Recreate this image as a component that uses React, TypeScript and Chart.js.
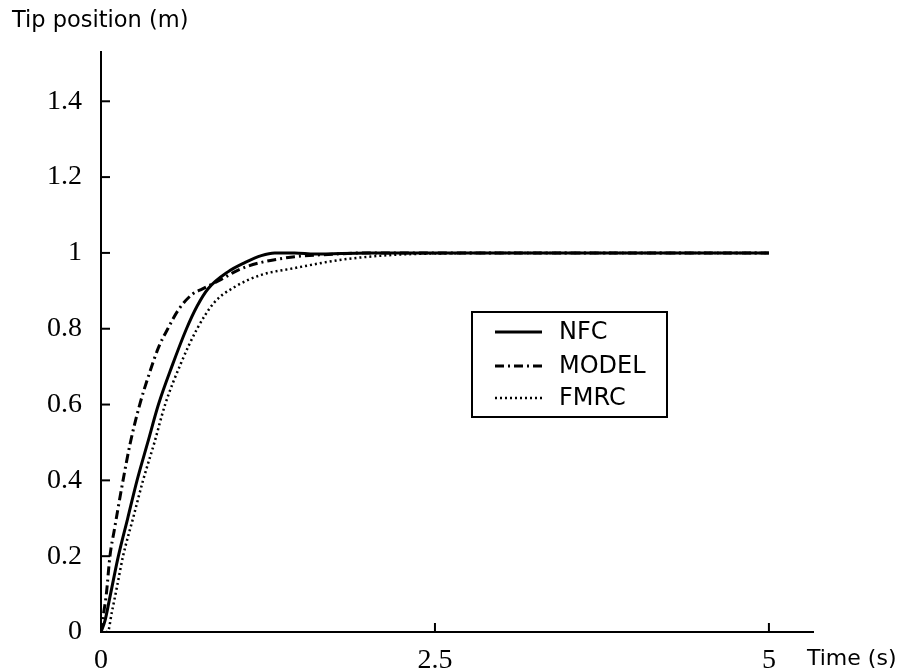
import React, { useEffect, useRef } from "react";
import { Chart, registerables } from "chart.js";

Chart.register(...registerables);

const nfcTime = [0, 0.03, 0.06, 0.1, 0.13, 0.2, 0.27, 0.35, 0.43, 0.53, 0.64, 0.72, 0.8, 0.95, 1.08, 1.2, 1.3, 1.45, 1.6, 2.0, 2.5, 3, 4, 5];
const nfcValues = [0, 0.03, 0.08, 0.15, 0.2, 0.3, 0.4, 0.5, 0.6, 0.7, 0.8, 0.86, 0.905, 0.95, 0.975, 0.993, 1.0, 1.0, 0.997, 1.0, 1.0, 1.0, 1.0, 1.0];

const modelTime = [0, 0.02, 0.04, 0.067, 0.1, 0.165, 0.22, 0.29, 0.36, 0.43, 0.5, 0.58, 0.68, 0.76, 0.9, 1.0, 1.1, 1.2, 1.3, 1.45, 1.7, 2.0, 2.5, 5];
const modelValues = [0, 0.05, 0.1, 0.2, 0.27, 0.4, 0.5, 0.6, 0.68, 0.75, 0.8, 0.85, 0.89, 0.905, 0.93, 0.95, 0.965, 0.975, 0.982, 0.99, 0.996, 1.0, 1.0, 1.0];

const fmrcTime = [0, 0.05, 0.08, 0.12, 0.165, 0.24, 0.315, 0.4, 0.48, 0.6, 0.72, 0.85, 1.0, 1.2, 1.45, 1.8, 2.2, 2.6, 3, 4, 5];
const fmrcValues = [0, 0, 0.05, 0.12, 0.2, 0.3, 0.4, 0.5, 0.6, 0.71, 0.8, 0.87, 0.91, 0.942, 0.96, 0.982, 0.995, 0.999, 1.0, 1.0, 1.0];

const seriesNames = ["NFC", "MODEL", "FMRC"];
const yTicks = [0, 0.2, 0.4, 0.6, 0.8, 1, 1.2, 1.4];
const xTicks = [0, 2.5, 5];
const xTickLabels = ["0", "2.5", "5"];
const yAxisTitle = "Tip position (m)";
const xAxisTitle = "Time (s)";

const pts = (t: number[], v: number[]) => t.map((x, i) => ({ x, y: v[i] }));

const SANS = "'DejaVu Sans', 'Liberation Sans', Arial, sans-serif";
const SERIF = "'Liberation Serif', 'Times New Roman', serif";

export default function App() {
  const ref = useRef<HTMLCanvasElement | null>(null);
  useEffect(() => {
    if (!ref.current) return;
    const styles = [
      { borderDash: [] as number[], borderWidth: 3 },
      { borderDash: [9, 4, 2, 4], borderWidth: 3 },
      { borderDash: [2, 3], borderWidth: 2.5 },
    ];
    const extras = {
      id: "extras",
      afterDraw(chart: any) {
        const ctx = chart.ctx;
        const xs = chart.scales.x;
        const ys = chart.scales.y;
        const ca = chart.chartArea;
        ctx.save();
        ctx.strokeStyle = "#000";
        ctx.lineWidth = 2;
        ctx.setLineDash([]);
        yTicks.forEach((v) => {
          if (v === 0) return;
          const py = ys.getPixelForValue(v);
          ctx.beginPath();
          ctx.moveTo(ca.left, py);
          ctx.lineTo(ca.left + 9, py);
          ctx.stroke();
        });
        xTicks.forEach((v) => {
          if (v === 0) return;
          const px = xs.getPixelForValue(v);
          ctx.beginPath();
          ctx.moveTo(px, ca.bottom);
          ctx.lineTo(px, ca.bottom - 9);
          ctx.stroke();
        });
        // titles
        ctx.fillStyle = "#000";
        ctx.textBaseline = "middle";
        ctx.textAlign = "left";
        ctx.font = "22.5px " + SANS;
        ctx.fillText(yAxisTitle, 12, 21);
        ctx.font = "22px " + SANS;
        ctx.fillText(xAxisTitle, 807, 659);
        // legend
        const bx = 472, by = 312, bw = 195, bh = 105;
        ctx.lineWidth = 2;
        ctx.strokeRect(bx, by, bw, bh);
        const rows = [332, 366, 398];
        ctx.font = "24px " + SANS;
        chart.data.datasets.forEach((ds: any, i: number) => {
          ctx.beginPath();
          ctx.setLineDash(ds.borderDash || []);
          ctx.lineWidth = ds.borderWidth;
          ctx.moveTo(495, rows[i]);
          ctx.lineTo(542, rows[i]);
          ctx.stroke();
          ctx.setLineDash([]);
          ctx.fillText(ds.label, 559, rows[i] + 1);
        });
        ctx.restore();
      },
    };
    const chart = new Chart(ref.current, {
      type: "scatter",
      data: {
        datasets: [
          { label: seriesNames[0], data: pts(nfcTime, nfcValues) },
          { label: seriesNames[1], data: pts(modelTime, modelValues) },
          { label: seriesNames[2], data: pts(fmrcTime, fmrcValues) },
        ].map((d, i) => ({
          ...d,
          showLine: true,
          pointRadius: 0,
          borderColor: "#000",
          backgroundColor: "#000",
          cubicInterpolationMode: "monotone" as const,
          ...styles[i],
        })),
      },
      options: {
        animation: false,
        responsive: false,
        layout: { padding: { top: 52, right: 85, left: 0, bottom: 0 } },
        plugins: { legend: { display: false }, tooltip: { enabled: false } },
        scales: {
          x: {
            type: "linear",
            min: 0,
            max: 5.33,
            afterBuildTicks: (s: any) => {
              s.ticks = xTicks.map((v) => ({ value: v }));
            },
            afterFit: (s: any) => {
              s.height = 40;
            },
            grid: { display: false, drawTicks: false },
            border: { display: true, color: "#000", width: 2 },
            ticks: {
              padding: 12,
              color: "#000",
              font: { family: SERIF, size: 28 },
              callback: (v: any) => xTickLabels[xTicks.indexOf(Number(v))] ?? "",
            },
          },
          y: {
            type: "linear",
            min: 0,
            max: 1.53,
            afterBuildTicks: (s: any) => {
              s.ticks = yTicks.map((v) => ({ value: v }));
            },
            afterFit: (s: any) => {
              s.width = 101;
            },
            grid: { display: false, drawTicks: false },
            border: { display: true, color: "#000", width: 2 },
            ticks: {
              padding: 19,
              color: "#000",
              font: { family: SERIF, size: 28 },
              callback: (v: any) => String(v),
            },
          },
        },
      },
      plugins: [extras],
    });
    return () => chart.destroy();
  }, []);
  return (
    <div style={{ position: "absolute", left: 0, top: 0, width: 898, height: 672, background: "#fff" }}>
      <canvas ref={ref} width={898} height={672} />
    </div>
  );
}
